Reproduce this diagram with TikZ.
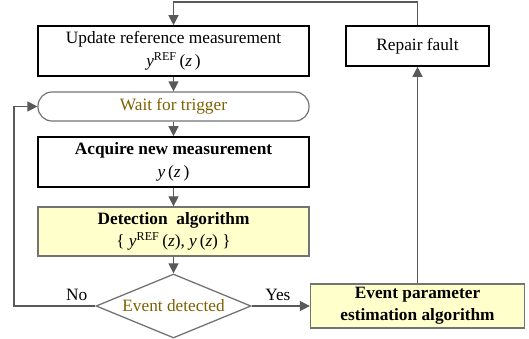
\documentclass[tikz,border=0pt]{standalone}
\usepackage{fontspec}
\setmainfont{Liberation Serif}
\usetikzlibrary{shapes.geometric,arrows.meta}
\definecolor{linegray}{RGB}{89,89,89}
\definecolor{boxgray}{RGB}{115,115,115}
\definecolor{olivetext}{RGB}{127,96,0}
\definecolor{paleyellow}{RGB}{255,255,204}
\newcommand{\yref}{\textit{y}\textsuperscript{REF}}
\begin{document}
\begin{tikzpicture}[x=1pt,y=-1pt,
  every node/.style={font=\fontsize{17.3}{22.5}\selectfont},
  plainbox/.style={draw=black,line width=1.6pt,align=center,inner sep=0pt},
  algobox/.style={draw=boxgray,line width=1.3pt,fill=paleyellow,align=center,inner sep=0pt,font=\fontsize{17.3}{22}\selectfont\bfseries},
  waitbox/.style={draw=boxgray,line width=1.2pt,rounded corners=14pt,text=olivetext,inner sep=0pt},
  decision/.style={diamond,aspect=2.42,draw=boxgray,line width=1.3pt,text=olivetext,inner sep=0pt},
  conn/.style={draw=linegray,line width=1.2pt,-{Triangle[length=10pt,width=10pt]}},
  lbl/.style={text=black,inner sep=5pt}
]
\useasboundingbox (0,0) rectangle (529,338);

\node[plainbox,minimum width=271pt,minimum height=50pt] (update) at (173.5,51)
  {Update reference measurement\\ \yref\,(\textit{z}\,)};
\node[plainbox,minimum width=143pt,minimum height=40pt] (repair) at (417.5,46) {Repair fault};
\node[waitbox,minimum width=271pt,minimum height=29pt] (wait) at (173.5,106.5) {Wait for trigger};
\node[plainbox,minimum width=271pt,minimum height=50pt] (acquire) at (173.5,162)
  {\textbf{Acquire new measurement}\\ \textit{y}\,(\textit{z}\,)};
\node[algobox,minimum width=271pt,minimum height=49pt] (detect) at (173.5,231.5)
  {Detection\ \ algorithm\\ \mdseries\{\ \yref\,(\textit{z}), \textit{y}\,(\textit{z}) \}};
\node[decision,minimum width=155pt,minimum height=64pt] (event) at (173.5,306) {Event detected};
\node[algobox,minimum width=214pt,minimum height=44pt] (param) at (417.5,306)
  {Event parameter\\estimation algorithm};

\coordinate (loopL) at (14,306);
\coordinate (loopT) at (417.5,2);

\draw[conn] (update) -- (wait);
\draw[conn] (wait) -- (acquire);
\draw[conn] (acquire) -- (detect);
\draw[conn] (detect) -- (event);
\draw[conn] (event) -- node[lbl,above,pos=0.45] {Yes} (param);
\draw[conn] (event.west) -- node[lbl,above,pos=0.23] {No} (loopL) |- (wait.west);
\draw[conn] (param) -- (repair);
\draw[conn] (repair.north) -- (loopT) -| (update.north);
\end{tikzpicture}
\end{document}
